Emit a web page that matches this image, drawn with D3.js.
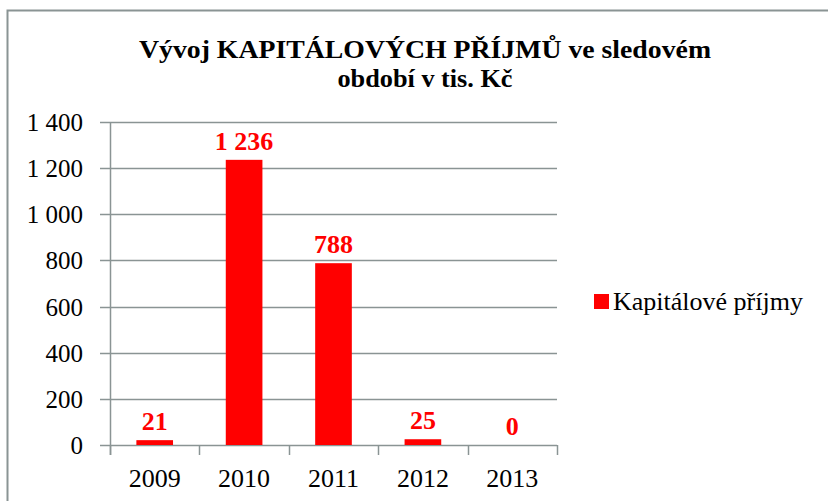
<!DOCTYPE html>
<html>
<head>
<meta charset="utf-8">
<script src="https://cdn.jsdelivr.net/npm/d3@7"></script>
<style>
  body { margin: 0; background: #fff; }
</style>
</head>
<body>
<div class="vis-barchart"></div>
<script>
const years = ["2009", "2010", "2011", "2012", "2013"];
const values = [21, 1236, 788, 25, 0];
const yTicks = [0, 200, 400, 600, 800, 1000, 1200, 1400];
const seriesName = "Kapitálové příjmy";
const titleLines = ["Vývoj KAPITÁLOVÝCH PŘÍJMŮ ve sledovém", "období v tis. Kč"];

const W = 828, H = 501;
const margin = { top: 122, right: 271, bottom: 56, left: 110 };
const width = W - margin.left - margin.right;
const height = H - margin.top - margin.bottom;
const red = "#ff0000";
const gridColor = "#8a9494";
const serif = "'Liberation Serif'";

const fmt = v => d3.format(",")(v).replace(/,/g, " ");

const svg = d3.select('.vis-barchart')
    .append('svg')
    .attr('width', W)
    .attr('height', H);

// outer chart frame
svg.append('rect')
    .attr('x', 7.5).attr('y', 10.5)
    .attr('width', W).attr('height', H)
    .attr('fill', 'none')
    .attr('stroke', gridColor)
    .attr('stroke-width', 2);

// title (reference text is condensed)
svg.selectAll('.title')
    .data(titleLines)
    .enter().append('text')
    .style('font-family', serif)
    .attr('x', 425)
    .attr('y', (d, i) => 58 + i * 29)
    .attr('text-anchor', 'middle')
    .attr('font-weight', 'bold')
    .attr('font-size', 26)
    .attr('textLength', (d, i) => i === 0 ? 572 : 175)
    .attr('lengthAdjust', 'spacingAndGlyphs')
    .text(d => d);

const g = svg.append('g')
    .attr('transform', 'translate(' + margin.left + ',' + margin.top + ')');

const x = d3.scaleBand()
    .domain(years)
    .range([0, width])
    .paddingInner(0.59)
    .paddingOuter(0.295);

const y = d3.scaleLinear()
    .domain([0, 1400])
    .range([height, 0]);

// gridlines
g.selectAll('.grid')
    .data(yTicks)
    .enter().append('line')
    .attr('x1', -10).attr('x2', width)
    .attr('y1', d => Math.round(y(d)) + 0.5)
    .attr('y2', d => Math.round(y(d)) + 0.5)
    .attr('stroke', gridColor)
    .attr('stroke-width', 1.5);

g.append('line')
    .attr('x1', 0.5).attr('x2', 0.5)
    .attr('y1', 0).attr('y2', height + 10)
    .attr('stroke', gridColor)
    .attr('stroke-width', 1.5);

g.selectAll('.ylab')
    .data(yTicks)
    .enter().append('text')
    .style('font-family', serif)
    .attr('x', -27)
    .attr('y', d => y(d) + 9)
    .attr('text-anchor', 'end')
    .attr('font-size', 25)
    .attr('fill', '#000')
    .text(d => fmt(d));

// x ticks at category boundaries
const step = x.step();
g.selectAll('.xtick')
    .data(d3.range(years.length + 1))
    .enter().append('line')
    .attr('x1', i => Math.round(i * step) + 0.5)
    .attr('x2', i => Math.round(i * step) + 0.5)
    .attr('y1', height).attr('y2', height + 10)
    .attr('stroke', gridColor)
    .attr('stroke-width', 1.5);

g.selectAll('.xlab')
    .data(years)
    .enter().append('text')
    .style('font-family', serif)
    .attr('x', d => x(d) + x.bandwidth() / 2)
    .attr('y', height + 42)
    .attr('text-anchor', 'middle')
    .attr('font-size', 26)
    .text(d => d);

// bars
g.selectAll('.bar')
    .data(values)
    .enter().append('rect')
    .attr('x', (d, i) => x(years[i]))
    .attr('y', d => y(d))
    .attr('width', x.bandwidth())
    .attr('height', d => height - y(d))
    .attr('fill', red);

// data labels
g.selectAll('.vlab')
    .data(values)
    .enter().append('text')
    .style('font-family', serif)
    .attr('x', (d, i) => x(years[i]) + x.bandwidth() / 2)
    .attr('y', d => y(d) - 10)
    .attr('text-anchor', 'middle')
    .attr('font-weight', 'bold')
    .attr('font-size', 26)
    .attr('fill', red)
    .text(d => fmt(d));

// legend
const legend = svg.append('g')
    .attr('transform', 'translate(594,294)');
legend.append('rect')
    .attr('width', 15).attr('height', 15)
    .attr('fill', red);
legend.append('text')
    .style('font-family', serif)
    .attr('x', 19).attr('y', 16)
    .attr('font-size', 26)
    .text(seriesName);
</script>
</body>
</html>
